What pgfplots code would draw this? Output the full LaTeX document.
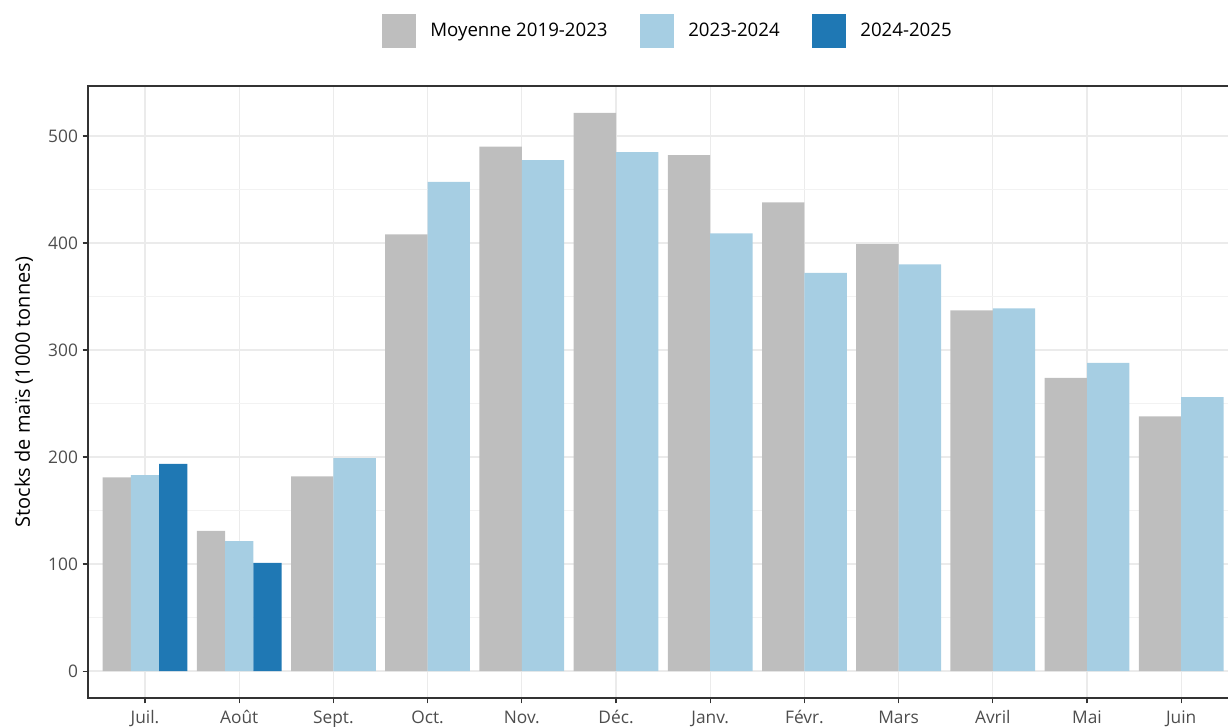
\documentclass[border=0pt]{standalone}
\usepackage{fontspec}
\setmainfont{Open Sans}
\usepackage{pgfplots}
\pgfplotsset{compat=1.18}
\usepackage{pgfplotstable}
\definecolor{cgrey}{HTML}{BEBEBE}
\definecolor{clight}{HTML}{A6CEE3}
\definecolor{cdark}{HTML}{1F78B4}
\definecolor{cgrid}{HTML}{EBEBEB}
\definecolor{cgridminor}{HTML}{F2F2F2}
\definecolor{ctick}{HTML}{4D4D4D}
\definecolor{cframe}{HTML}{333333}

\pgfplotstableread{
x grey light dark
0 181 183 193.5
1 131 121.5 101
}\threebars

\pgfplotstableread{
x grey light
2 182 199
3 408 457
4 490 477.5
5 521.5 485
6 482 409
7 438 372
8 399 380
9 337 339
10 274 288
11 238 256
}\twobars

\begin{document}
\begin{tikzpicture}
\useasboundingbox (-66pt,-21pt) rectangle (855pt,523.5pt);
\begin{axis}[
  at={(0,0)}, anchor=south west,
  scale only axis,
  width=862.3pt, height=459pt,
  xmin=-0.605, xmax=11.6,
  ymin=-25.2, ymax=546.7,
  xtick={0,...,11},
  xticklabels={Juil.,Août,Sept.,Oct.,Nov.,Déc.,Janv.,Févr.,Mars,Avril,Mai,Juin},
  ytick={0,100,200,300,400,500},
  minor ytick={50,150,250,350,450},
  grid=both,
  major grid style={cgrid, line width=0.9pt},
  minor grid style={cgridminor, line width=0.6pt},
  minor tick length=0pt,
  tick align=outside,
  major tick length=4pt,
  xtick pos=left, ytick pos=left,
  tick style={cframe, line width=0.8pt},
  axis line style={cframe, line width=0.8pt},
  /pgf/number format/assume math mode=true,
  ticklabel style={font=\fontsize{13pt}{15pt}\selectfont, text=ctick},
  xticklabel style={yshift=-2pt},
  ylabel={Stocks de maïs (1000 tonnes)},
  every axis y label/.style={at={(axis description cs:-0.0557,0.5)}, anchor=center, rotate=90,
    font=\fontsize{15pt}{17pt}\selectfont, text=black},
  legend style={at={(axis description cs:0.5045,1)}, anchor=center, yshift=41.25pt,
    draw=none, fill=none, font=\fontsize{14pt}{16pt}\selectfont,
    legend columns=-1,
    /tikz/every odd column/.append style={column sep=9pt},
    /tikz/every even column/.append style={column sep=22pt}},
  legend image code/.code={\fill[#1] (0pt,-12.75pt) rectangle (25.5pt,12.75pt);},
]
\addplot[ybar, bar width=0.3, bar shift=-0.3, fill=cgrey, draw=none] table[x=x, y=grey] {\threebars};
\addlegendentry{Moyenne 2019-2023}
\addplot[ybar, bar width=0.3, bar shift=0, fill=clight, draw=none] table[x=x, y=light] {\threebars};
\addlegendentry{2023-2024}
\addplot[ybar, bar width=0.3, bar shift=0.3, fill=cdark, draw=none] table[x=x, y=dark] {\threebars};
\addlegendentry{2024-2025}
\addplot[ybar, bar width=0.45, bar shift=-0.225, fill=cgrey, draw=none, forget plot] table[x=x, y=grey] {\twobars};
\addplot[ybar, bar width=0.45, bar shift=0.225, fill=clight, draw=none, forget plot] table[x=x, y=light] {\twobars};
\end{axis}
\end{tikzpicture}
\end{document}
